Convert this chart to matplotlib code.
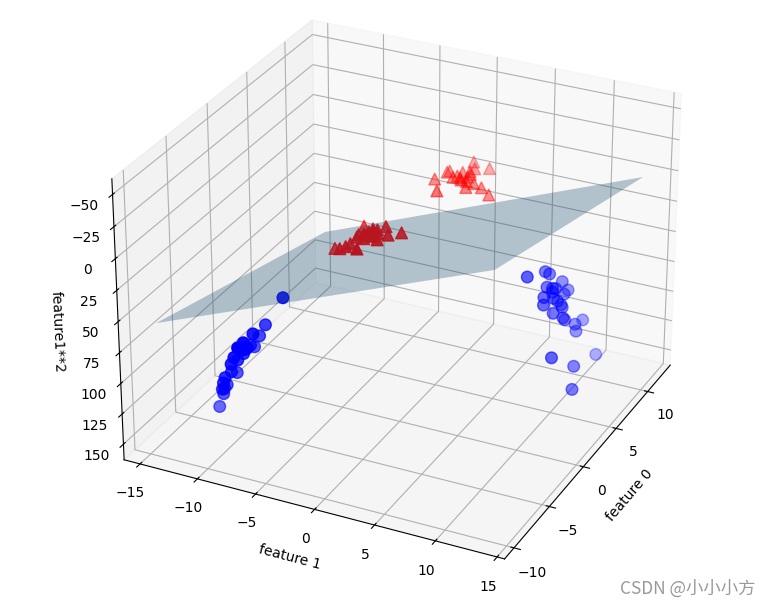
import matplotlib
matplotlib.use("Agg")
import numpy as np
import matplotlib.pyplot as plt
from mpl_toolkits.mplot3d import Axes3D

# class 0, the two blue blobs
a_f0 = [-4.4,-4.2,-4.1,-6.2,-3.9,-7.4,-5.1,-8.1,-6.8,-5.7,-6.3,-7.6,-5.0,-6.4,-7.2,-6.0,-6.2,-5.9,-5.6,-6.5,-6.0,-7.0,-5.5,-7.4,-7.0,-6.6]
a_f1 = [-7.1,-8.8,-9.4,-8.5,-10.0,-8.5,-9.5,-8.5,-9.0,-9.7,-9.8,-9.2,-10.8,-10.3,-10.3,-11.0,-11.1,-11.4,-12.0,-9.2,-9.4,-9.0,-9.5,-9.6,-10.6,-11.0]
a_z = [50.4,77.4,88.4,72.3,100,72.3,90.3,72.3,81,94.1,96,84.6,116.6,106.1,106.1,121,123.2,130,144,84.6,88.4,81,90.3,92.2,112.4,121]
b_f0 = [5.4,7.4,7.7,8.6,8.8,8.2,6.8,7.3,7.6,7.1,6.0,6.9,7.2,5.6,7.4,7.4,6.2,7.0,7.1,9.0,8.0,7.8,9.0,4.1,6.1,5.0]
b_f1 = [7.6,8.0,8.2,8.8,9.2,9.2,8.5,8.7,8.8,8.8,8.7,9.0,9.2,8.9,9.4,9.5,9.4,9.8,9.9,10.4,10.3,10.5,11.6,10.5,11.3,11.8]
b_z = [57.8,64,67.2,77.4,84.6,84.6,72.3,75.7,77.4,77.4,75.7,81,84.6,79.2,88.4,90.3,88.4,96,98,108.2,106.1,110.3,134.6,110.3,127.7,139.2]

# class 1, the two red blobs
c_f0 = [6.3,4.8,7.4,7.6,6.9,7.1,6.4,7.5,9.4,8.7,7.9,9.5,7.2,7.3,7.2,6.9,7.2,7.8,8.2,7.0]
c_f1 = [-.9,.2,-.5,-.4,.3,.8,1.7,1.2,.6,1.1,1.2,1.9,1.9,2.5,3.2,1.0,.5,.6,1.0,1.4]
c_z = [.8,0,.3,.2,.1,.6,2.9,1.4,.4,1.2,1.4,3.6,3.6,6.3,10.2,1,.3,.4,1,2]
d_f0 = [-2.3,-3.2,-3.2,-2.9,-3.9,-1.5,-1.6,0,-1.4,-1.7,-2.5,-.7,-1.7,-1.0,-2.4,-1.5,-1.9,-1.9,-1.2,-2.1,-1.0]
d_f1 = [-4.0,-3.0,-2.5,-2.3,-1.1,-2.5,-2.0,-3.0,-1.7,-.8,-.3,-.7,.1,.8,-1.5,-1.3,-2.4,-1.6,-1.1,-1.0,-1.6]
d_z = [16,9,6.3,5.3,1.2,6.3,4,9,2.9,.6,.1,.5,0,.6,2.3,1.7,5.8,2.6,1.2,1,2.6]

# decision plane corners
plane_x = [[-10.1, 11.5], [-10.1, 11.5]]
plane_y = [[-14.0, -14.0], [13.8, 13.8]]
plane_z = [[52.8, 100.8], [-50.0, -3.0]]

fig = plt.figure(figsize=(7.71, 6.03), dpi=100)
ax = fig.add_axes([-0.0248, -0.0095, 1.074, 1.074], projection='3d', elev=-152, azim=-26)

ax.plot_surface(np.array(plane_x), np.array(plane_y), np.array(plane_z), alpha=0.3)
ax.scatter(a_f0 + b_f0, a_f1 + b_f1, a_z + b_z, c='b', s=70)
ax.scatter(c_f0 + d_f0, c_f1 + d_f1, c_z + d_z, c='r', marker='^', s=72)

ax.set_xlim(-11.3, 13.7)
ax.set_ylim(-16.4, 15.6)
ax.set_zlim(-62, 163)
ax.set_xlabel("feature 0")
ax.set_ylabel("feature 1")
ax.set_zlabel("feature1**2")

fig.text(0.98, 0.015, "CSDN @小小小方", color='#999999', fontsize=12.5, ha='right',
         family=['Noto Sans CJK SC', 'DejaVu Sans'])
fig.savefig("out.png", dpi=100)
